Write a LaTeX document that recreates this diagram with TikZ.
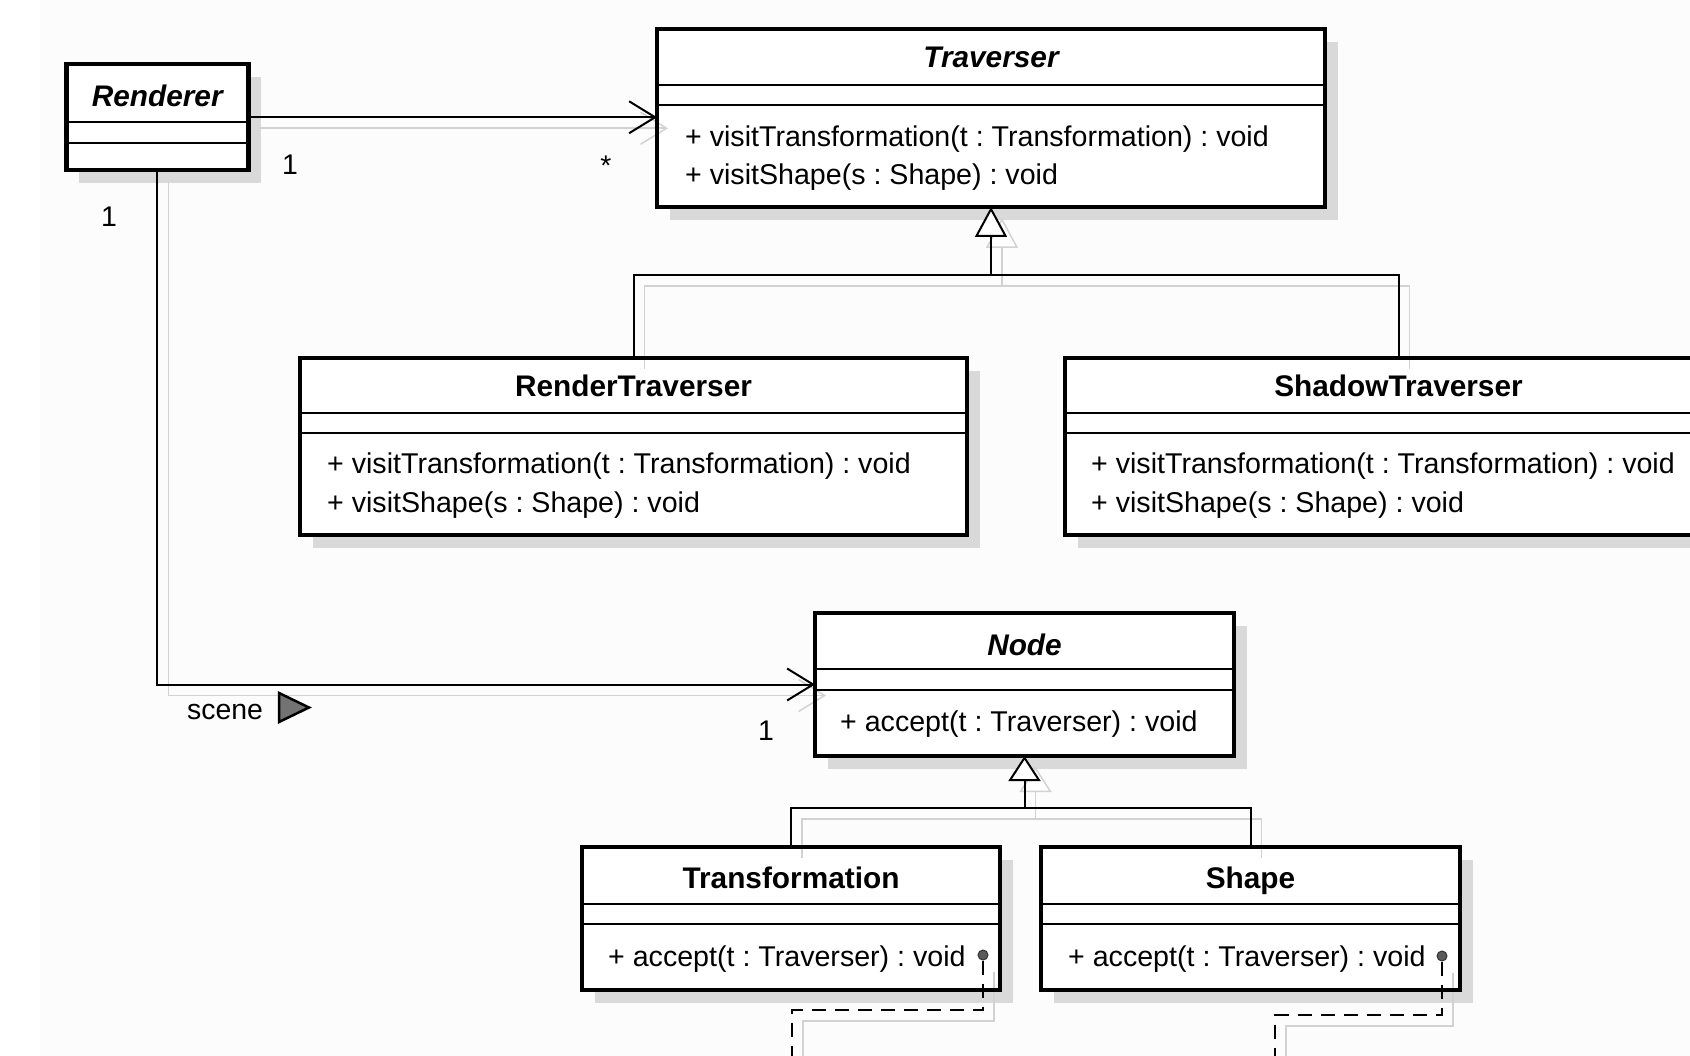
\documentclass[tikz,border=0pt]{standalone}
\usepackage{fontspec}
\newfontfamily\mfont{Liberation Sans}
\newfontfamily\tfont{Liberation Sans}
\usetikzlibrary{arrows.meta,calc,shadows}
\frenchspacing
\definecolor{bgc}{HTML}{FCFCFC}
\definecolor{shc}{HTML}{D9D9D9}
\definecolor{ghc}{HTML}{D2D2D2}
\definecolor{dotc}{HTML}{5A5A5A}
\tikzset{
  classbox/.style={rectangle, fill=white, inner sep=0pt, outer sep=0pt,
    drop shadow={shadow xshift=13pt, shadow yshift=-13pt, fill=shc, opacity=1}},
  border/.style={draw=black, line width=4.5pt},
  sepline/.style={draw=black, line width=2pt},
  title/.style={anchor=base, inner sep=0pt, font=\tfont\bfseries\fontsize{29.8pt}{34pt}\selectfont},
  atitle/.style={anchor=base, inner sep=0pt, font=\tfont\bfseries\itshape\fontsize{29.8pt}{34pt}\selectfont},
  member/.style={anchor=base west, inner sep=0pt, font=\mfont\fontsize{28.6pt}{32pt}\selectfont\frenchspacing},
  mult/.style={anchor=base, inner sep=0pt, font=\mfont\fontsize{28.4pt}{32pt}\selectfont},
  conn/.style={draw=black, line width=2pt},
  assoc/.style={conn, -{Straight Barb[length=26pt,width=32pt]}},
  gen/.style={conn, -{Triangle[length=30pt,width=32pt,fill=white]}},
  gensmall/.style={conn, -{Triangle[length=25pt,width=32pt,fill=white]}},
  dep/.style={conn, dash pattern=on 14pt off 9pt},
  ghost/.style={draw=ghc, line width=1.5pt, transform canvas={shift={(11pt,-11pt)}}},
  gassoc/.style={ghost, -{Straight Barb[length=26pt,width=32pt]}},
  ggen/.style={ghost, -{Triangle[length=30pt,width=32pt,fill=white]}},
  ggensmall/.style={ghost, -{Triangle[length=25pt,width=32pt,fill=white]}},
  dotn/.style={circle, minimum size=10pt, inner sep=0pt, fill=dotc, draw=black!80, line width=1pt},
}
\begin{document}
\begin{tikzpicture}[x=1pt,y=-1pt]
\useasboundingbox (0,0) rectangle (1690,1056);
\clip (0,0) rectangle (1690,1056);
\fill[white] (0,0) rectangle (1690,1056);
\fill[bgc] (40,0) rectangle (1690,1056);

% class boxes (fill + shadow)
\node[classbox, minimum width=182pt, minimum height=106pt] (ren) at (157.25,117.25) {};
\node[classbox, minimum width=668pt, minimum height=178pt] (trav) at (991,118) {};
\node[classbox, minimum width=667pt, minimum height=177pt] (rt) at (633.5,446.5) {};
\node[classbox, minimum width=667pt, minimum height=177pt] (st) at (1398.5,446.5) {};
\node[classbox, minimum width=419pt, minimum height=143pt] (nd) at (1024.5,684.5) {};
\node[classbox, minimum width=418pt, minimum height=143pt] (tr) at (791,918.5) {};
\node[classbox, minimum width=419pt, minimum height=143pt] (sh) at (1250.5,918.5) {};

% junctions and free ends
\coordinate (j1) at (991,275);
\coordinate (j2) at (1024.5,808);
\node[dotn] (tdot) at (983,955) {};
\node[dotn] (sdot) at (1442,956) {};
\coordinate (tturn) at (792,1010);
\coordinate (tend) at (792,1080);
\coordinate (sturn) at (1275,1015);
\coordinate (send) at (1275,1080);

% ghost (shadow) connectors
\draw[gassoc] (ren.east) -- (trav.west |- ren.east);
\draw[gassoc] (ren.south) |- (nd.west);
\draw[ghost] (rt.north) |- (j1) -| (st.north);
\draw[ggen] (j1) -- (trav.south);
\draw[ghost] (tr.north) |- (j2) -| (sh.north);
\draw[ggensmall] (j2) -- (nd.south);
\draw[ghost] (tdot.south) |- (tturn) -- (tend);
\draw[ghost] (sdot.south) |- (sturn) -- (send);

% connectors
\draw[assoc] (ren.east) -- (trav.west |- ren.east);
\draw[assoc] (ren.south) |- (nd.west);
\draw[conn] (rt.north) |- (j1) -| (st.north);
\draw[gen] (j1) -- (trav.south);
\draw[conn] (tr.north) |- (j2) -| (sh.north);
\draw[gensmall] (j2) -- (nd.south);
\draw[dep] (tdot.south) |- (tturn) -- (tend);
\draw[dep] (sdot.south) |- (sturn) -- (send);

% borders
\foreach \n in {ren,trav,rt,st,nd,tr,sh}
  \draw[border] (\n.north west) rectangle (\n.south east);

% separators
\draw[sepline] (ren.west |- 0,122.5) -- (ren.east |- 0,122.5);
\draw[sepline] (ren.west |- 0,143) -- (ren.east |- 0,143);
\draw[sepline] (trav.west |- 0,85) -- (trav.east |- 0,85);
\draw[sepline] (trav.west |- 0,105) -- (trav.east |- 0,105);
\draw[sepline] (rt.west |- 0,413) -- (rt.east |- 0,413);
\draw[sepline] (rt.west |- 0,433) -- (rt.east |- 0,433);
\draw[sepline] (st.west |- 0,413) -- (st.east |- 0,413);
\draw[sepline] (st.west |- 0,433) -- (st.east |- 0,433);
\draw[sepline] (nd.west |- 0,669) -- (nd.east |- 0,669);
\draw[sepline] (nd.west |- 0,690) -- (nd.east |- 0,690);
\draw[sepline] (tr.west |- 0,904) -- (tr.east |- 0,904);
\draw[sepline] (tr.west |- 0,924) -- (tr.east |- 0,924);
\draw[sepline] (sh.west |- 0,904) -- (sh.east |- 0,904);
\draw[sepline] (sh.west |- 0,924) -- (sh.east |- 0,924);

% texts
\node[atitle] (renT) at (157.25,107) {Renderer};
\node[atitle] (travT) at (991,68) {Traverser};
\node[member] (travM1) at (685,147) {+ visitTransformation(t : Transformation) : void};
\node[member] (travM2) at (685,185) {+ visitShape(s : Shape) : void};
\node[title] (rtT) at (633.5,397) {RenderTraverser};
\node[member] (rtM1) at (327,474) {+ visitTransformation(t : Transformation) : void};
\node[member] (rtM2) at (327,512) {+ visitShape(s : Shape) : void};
\node[title] (stT) at (1398.5,397) {ShadowTraverser};
\node[member] (stM1) at (1091,474) {+ visitTransformation(t : Transformation) : void};
\node[member] (stM2) at (1091,512) {+ visitShape(s : Shape) : void};
\node[atitle] (ndT) at (1024.5,655) {Node};
\node[member] (ndM) at (840,731) {+ accept(t : Traverser) : void};
\node[title] (trT) at (791,888) {Transformation};
\node[member] (trM) at (608,966) {+ accept(t : Traverser) : void};
\node[title] (shT) at (1250.5,888) {Shape};
\node[member] (shM) at (1068,966) {+ accept(t : Traverser) : void};

% multiplicities and role
\node[mult] (m1) at (290,175) {1};
\node[mult] (m2) at (606,176) {*};
\node[mult] (m3) at (109,227) {1};
\node[mult] (m4) at (766,740) {1};
\node[mult] (scene) at (225,719) {scene};
\filldraw[fill=black!55, draw=black, line width=2.5pt, line join=miter]
  (279,693) -- (279,722) -- (309,707.5) -- cycle;
\end{tikzpicture}
\end{document}
